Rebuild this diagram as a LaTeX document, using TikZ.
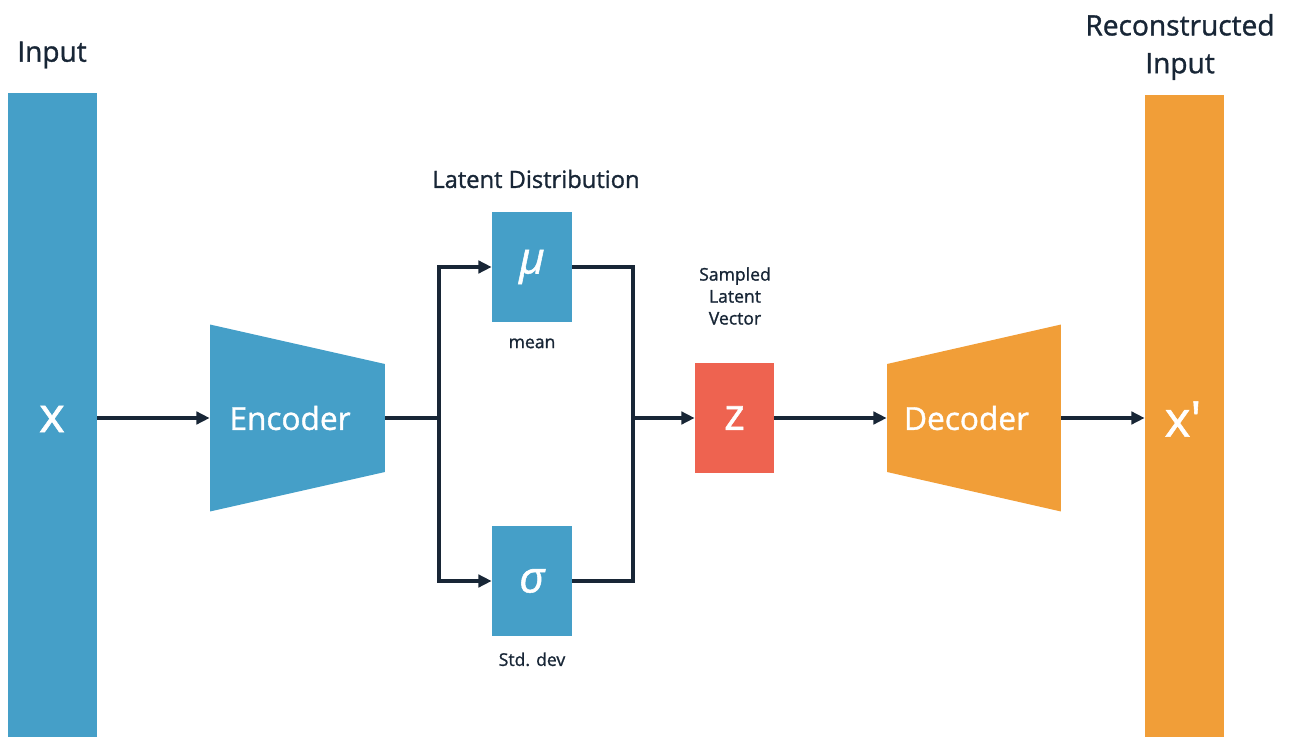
\documentclass[tikz,border=0pt]{standalone}
\usepackage{fontspec}
\setmainfont{Open Sans}
\newfontfamily\heavier{Open Sans}[FakeBold=1.2]
\usepackage{tikz}
\usetikzlibrary{positioning,calc,arrows.meta}
\definecolor{vaeblue}{RGB}{69,159,200}
\definecolor{vaeorange}{RGB}{241,158,56}
\definecolor{vaered}{RGB}{238,99,80}
\definecolor{vaeink}{RGB}{24,38,54}
\tikzset{
    bar/.style = {fill=#1, inner sep=0pt},
    boxnode/.style = {fill=#1, minimum width=1.6cm, minimum height=2.2cm, inner sep=0pt, text=white},
    title/.style = {text=vaeink, font=\heavier\fontsize{16}{21.5}\selectfont, align=center},
    caption/.style = {text=vaeink, font=\heavier\fontsize{10}{12.5}\selectfont, align=center},
    wire/.style = {draw=vaeink, line width=2pt},
    arrow/.style = {wire, -{Triangle[length=7.5pt,width=7pt]}},
    % trapezoid drawn inside the node box, wide side left or right
    coder-left/.style = {minimum width=3.5cm, minimum height=3.74cm, inner sep=0pt, text=white,
        font=\heavier\fontsize{18}{24}\selectfont,
        path picture={\fill[#1] (path picture bounding box.north west)
            -- ($(path picture bounding box.north east)+(0,-0.79cm)$)
            -- ($(path picture bounding box.south east)+(0,0.79cm)$)
            -- (path picture bounding box.south west) -- cycle;}},
    coder-right/.style = {minimum width=3.48cm, minimum height=3.74cm, inner sep=0pt, text=white,
        font=\heavier\fontsize{18}{24}\selectfont,
        path picture={\fill[#1] ($(path picture bounding box.north west)+(0,-0.79cm)$)
            -- (path picture bounding box.north east)
            -- (path picture bounding box.south east)
            -- ($(path picture bounding box.south west)+(0,0.79cm)$) -- cycle;}},
}

\begin{document}
\begin{tikzpicture}[x=0.02cm, y=-0.02cm]
\useasboundingbox (0,0) rectangle (1299,737);

% input and output columns
\node [bar=vaeblue, minimum width=1.78cm, minimum height=12.88cm] (inbar) at (52.5,415) {};
\node [text=white, font=\heavier\fontsize{28}{30}\selectfont] (xin) at (52,419) {x};
\node [bar=vaeorange, minimum width=1.58cm, minimum height=12.84cm] (outbar) at (1184.5,416) {};
\node [text=white, font=\heavier\fontsize{28}{30}\selectfont] (xout) at (1183,419) {x′};
\node [title] (intitle) at (52,55) {Input};
\node [title] (outtitle) at (1180,47) {Reconstructed\\Input};

% encoder / decoder
\node [coder-left=vaeblue] (enc) at (297.5,418) {\hspace*{-0.3cm}Encoder};
\node [coder-right=vaeorange] (dec) at (974,418) {\hspace*{-0.3cm}Decoder};

% latent distribution
\node [boxnode=vaeblue, font=\heavier\fontsize{25}{28}\selectfont\itshape] (mu) at (532,267) {μ};
\node [boxnode=vaeblue, font=\heavier\fontsize{25}{28}\selectfont\itshape] (sigma) at (532,581) {σ};
\node [title, font=\heavier\fontsize{13.5}{17}\selectfont] (latent) at (536,179) {Latent Distribution};
\node [caption, below=0.2cm of mu] (mean) {mean};
\node [caption, below=0.2cm of sigma] (std) {Std. dev};

% sampled vector
\node [boxnode=vaered, minimum width=1.58cm, font=\heavier\fontsize{25}{28}\selectfont] (z) at (734.5,418) {z};
\node [caption] (zlabel) at (735,296) {Sampled\\Latent\\Vector};

\coordinate (split) at (439,418);
\coordinate (merge) at (633,418);

% connectors
\draw [arrow] (inbar.east |- enc) -- (enc.west);
\draw [wire] (enc.east) -- (split);
\draw [arrow] (split) |- (mu.west);
\draw [arrow] (split) |- (sigma.west);
\draw [wire] (mu.east) -| (merge);
\draw [wire] (sigma.east) -| (merge);
\draw [arrow] (merge) -- (z.west);
\draw [arrow] (z.east) -- (dec.west);
\draw [arrow] (dec.east) -- (outbar.west |- dec);
\end{tikzpicture}
\end{document}
